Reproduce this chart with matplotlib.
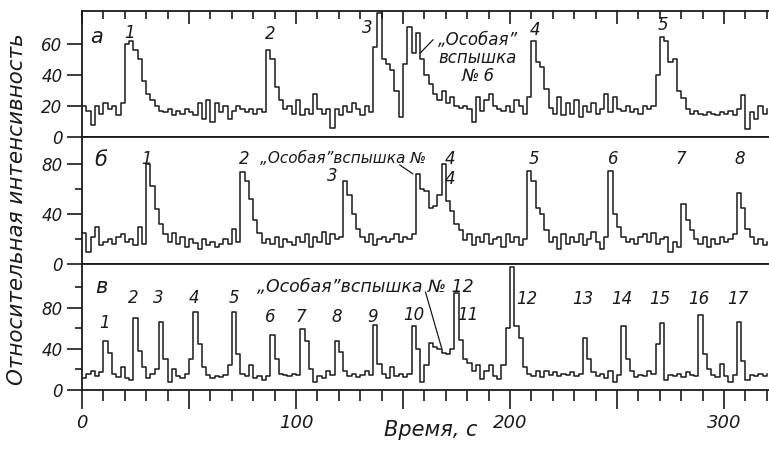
import numpy as np
import matplotlib
matplotlib.use("Agg")
import matplotlib.pyplot as plt
from matplotlib.ticker import MultipleLocator, FixedLocator, FuncFormatter

# relative intensity, one value every 2 s (t = 0 .. 320 s)
a_vals = [20, 17, 8, 20, 15, 22, 18, 20, 14, 22,
          60, 62, 56, 50, 36, 28, 24, 20, 17, 16,
          18, 14, 17, 15, 18, 16, 14, 22, 12, 24,
          10, 22, 16, 20, 12, 17, 20, 18, 16, 18,
          15, 18, 16, 56, 50, 32, 24, 18, 20, 15,
          24, 14, 18, 15, 28, 18, 15, 18, 6, 18,
          14, 20, 16, 22, 18, 14, 20, 16, 58, 80,
          50, 47, 43, 30, 13, 47, 71, 54, 67, 50,
          40, 34, 28, 24, 30, 22, 26, 20, 19, 20,
          18, 10, 26, 17, 24, 28, 20, 18, 17, 20,
          16, 24, 20, 15, 26, 62, 48, 45, 31, 19,
          15, 26, 14, 22, 15, 24, 13, 20, 16, 22,
          15, 18, 28, 16, 26, 18, 17, 20, 16, 18,
          15, 20, 18, 20, 40, 64, 62, 48, 50, 30,
          25, 18, 15, 17, 15, 14, 16, 15, 14, 16,
          15, 17, 14, 18, 27, 5, 16, 12, 20, 15,
          18]

b_vals = [25, 10, 22, 30, 15, 18, 20, 16, 22, 24,
          18, 20, 15, 30, 16, 80, 62, 44, 32, 24,
          18, 25, 16, 22, 14, 20, 17, 12, 20, 15,
          18, 14, 16, 20, 16, 28, 18, 73, 66, 52,
          35, 25, 17, 20, 16, 22, 14, 20, 18, 15,
          22, 18, 24, 14, 22, 18, 26, 16, 24, 20,
          22, 66, 55, 40, 28, 22, 18, 24, 15, 20,
          22, 18, 20, 24, 18, 22, 20, 24, 72, 60,
          58, 45, 46, 55, 80, 50, 42, 32, 27, 19,
          24, 15, 22, 18, 24, 16, 20, 22, 14, 24,
          18, 22, 15, 20, 74, 66, 45, 40, 27, 18,
          22, 12, 24, 16, 22, 18, 24, 15, 20, 26,
          18, 12, 22, 74, 40, 30, 22, 18, 20, 16,
          22, 24, 18, 25, 16, 20, 22, 10, 18, 14,
          48, 35, 27, 20, 16, 22, 14, 20, 16, 22,
          18, 20, 24, 57, 45, 28, 22, 16, 20, 15,
          18]

c_vals = [12, 16, 18, 14, 17, 48, 36, 16, 13, 22,
          12, 10, 70, 38, 22, 12, 16, 20, 66, 30,
          8, 20, 14, 12, 16, 30, 76, 45, 22, 15,
          12, 14, 13, 15, 24, 76, 35, 16, 14, 24,
          12, 14, 10, 14, 53, 30, 16, 15, 14, 16,
          15, 59, 48, 20, 8, 14, 12, 18, 15, 48,
          37, 18, 14, 16, 13, 15, 18, 15, 63, 25,
          16, 12, 22, 14, 16, 13, 16, 62, 40, 8,
          24, 46, 42, 40, 36, 35, 40, 94, 49, 30,
          26, 18, 24, 11, 18, 24, 14, 11, 24, 60,
          119, 62, 50, 22, 16, 14, 18, 13, 18, 15,
          17, 14, 16, 15, 17, 14, 16, 50, 30, 17,
          14, 16, 12, 18, 8, 15, 62, 30, 18, 13,
          15, 14, 18, 16, 45, 65, 10, 15, 14, 16,
          13, 17, 15, 14, 73, 35, 20, 15, 13, 25,
          14, 8, 15, 66, 28, 10, 15, 14, 16, 14,
          16]

# flare numbers and where they are written (t, level)
a_labels = [("1", 22, 67), ("2", 88, 66), ("3", 133.5, 70), ("4", 211.5, 69), ("5", 271.5, 72)]
b_labels = [("1", 30, 84), ("2", 76, 84), ("3", 117, 70), ("4", 172, 68),
            ("5", 211, 84), ("6", 248, 84), ("7", 280, 84), ("8", 307.5, 84)]
c_labels = [("1", 10.5, 65), ("2", 24, 89), ("3", 35.5, 89), ("4", 52.5, 89), ("5", 71, 89),
            ("6", 88, 71), ("7", 102, 71), ("8", 119, 71), ("9", 136, 71),
            ("10", 155, 73), ("11", 180.5, 73), ("12", 208, 88), ("13", 234, 88),
            ("14", 252, 88), ("15", 270, 88), ("16", 288, 88), ("17", 306.5, 88)]

ink = "#1a1a1a"
fnt = dict(style="italic", color=ink)

fig = plt.figure(figsize=(7.69, 4.59), dpi=100)
left = 82 / 769
ax_a = fig.add_axes([left, 0.7009, 1 - left, 0.2752])
ax_b = fig.add_axes([left, 0.4242, 1 - left, 0.2767])
ax_c = fig.add_axes([left, 0.1503, 1 - left, 0.2739])

panels = [(ax_a, a_vals, 81, [0, 20, 40, 60], []),
          (ax_b, b_vals, 101, [0, 40, 80], [20, 60]),
          (ax_c, c_vals, 122, [0, 40, 80], [20, 60, 100])]

for ax, vals, top, major, minor in panels:
    t = 2 * np.arange(len(vals))
    ax.step(t, vals, where="post", color=ink, lw=1.1)
    ax.set_xlim(0, 321)
    ax.set_ylim(0, top)
    ax.spines["right"].set_visible(False)
    for s in ["left", "top", "bottom"]:
        ax.spines[s].set_linewidth(1.3)
        ax.spines[s].set_color(ink)
    ax.yaxis.set_major_locator(FixedLocator(major))
    ax.yaxis.set_minor_locator(FixedLocator(minor))
    ax.tick_params(axis="y", which="major", length=11, width=1.2, pad=3, labelsize=12, colors=ink)
    ax.tick_params(axis="y", which="minor", length=5, width=1.2, colors=ink)
    for lb in ax.get_yticklabels():
        lb.set_style("italic")
    ax.xaxis.set_major_locator(MultipleLocator(50))
    ax.xaxis.set_minor_locator(MultipleLocator(10))

# top panel: inward ticks along the upper edge
ax_a.tick_params(axis="x", which="both", bottom=False, top=True, direction="in",
                 labelbottom=False, width=1.2, colors=ink)
ax_a.tick_params(axis="x", which="major", length=9)
ax_a.tick_params(axis="x", which="minor", length=6)
ax_b.tick_params(axis="x", which="both", bottom=False, labelbottom=False)

# bottom panel: time axis
ax_c.tick_params(axis="x", which="major", length=14, width=1.2, pad=3, labelsize=13, colors=ink)
ax_c.tick_params(axis="x", which="minor", length=8, width=1.2, colors=ink)
ax_c.xaxis.set_major_formatter(FuncFormatter(lambda v, p: "%d" % v if v % 100 == 0 else ""))
for lb in ax_c.get_xticklabels():
    lb.set_style("italic")

for ax, labels in [(ax_a, a_labels), (ax_b, b_labels), (ax_c, c_labels)]:
    for s, x, y in labels:
        ax.text(x, y, s, ha="center", va="center", fontsize=12, **fnt)

ax_a.text(4, 64, "а", ha="left", va="center", fontsize=15, **fnt)
ax_b.text(6, 83, "б", ha="left", va="center", fontsize=15, **fnt)
ax_c.text(6, 100, "в", ha="left", va="center", fontsize=15, **fnt)

# "special" flares
ax_a.text(185, 51, "\u201eОсобая\u201d\nвспышка\n№ 6", ha="center", va="center",
          fontsize=12, linespacing=1.0, multialignment="center", **fnt)
ax_a.plot([164, 158], [62.5, 54], color=ink, lw=0.9)

ax_b.text(83, 84, "\u201eОсобая\u201dвспышка №", ha="left", va="center", fontsize=11, **fnt)
ax_b.text(172, 84, "4", ha="center", va="center", fontsize=12, **fnt)
ax_b.plot([148.5, 154.5], [79, 72], color=ink, lw=0.9)

ax_c.text(82, 100, "\u201eОсобая\u201dвспышка № 12", ha="left", va="center", fontsize=12.5, **fnt)
ax_c.plot([160.5, 168], [95, 41], color=ink, lw=0.9)

fig.text(0.022, 0.545, "Относительная интенсивность", rotation=90, ha="center", va="center",
         fontsize=15.5, **fnt)
fig.text(0.56, 0.063, "Время, с", ha="center", va="center", fontsize=15, **fnt)

fig.savefig("out.png", dpi=100)
